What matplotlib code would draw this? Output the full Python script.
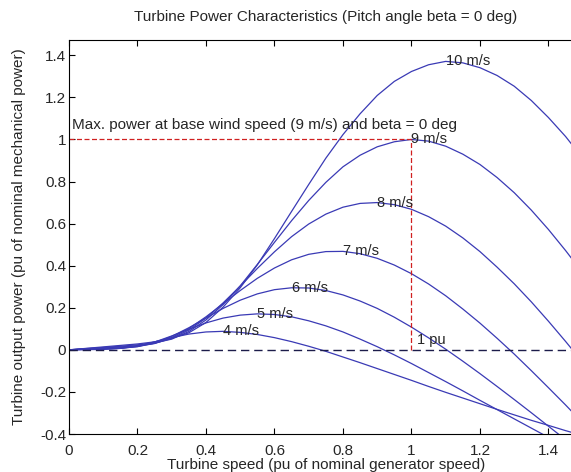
import numpy as np
import matplotlib
matplotlib.use('Agg')
import matplotlib.pyplot as plt

# turbine speed (pu), shared by every curve
speed = np.linspace(0, 1.5, 31)

wind_speeds = [4, 5, 6, 7, 8, 9, 10]

p4 = [0, 0.001, 0.002, 0.007, 0.019, 0.038, 0.058, 0.075, 0.085, 0.088, 0.083,
      0.073, 0.058, 0.039, 0.017, -0.007, -0.034, -0.061, -0.089, -0.117, -0.145,
      -0.174, -0.202, -0.229, -0.256, -0.283, -0.309, -0.335, -0.359, -0.384, -0.407]
p5 = [0, 0.002, 0.004, 0.007, 0.016, 0.037, 0.066, 0.098, 0.128, 0.151, 0.165,
      0.171, 0.168, 0.157, 0.138, 0.114, 0.085, 0.051, 0.015, -0.024, -0.065,
      -0.108, -0.151, -0.195, -0.240, -0.284, -0.328, -0.372, -0.416, -0.458, -0.500]
p6 = [0, 0.003, 0.005, 0.008, 0.015, 0.032, 0.064, 0.105, 0.151, 0.197, 0.236,
      0.266, 0.286, 0.295, 0.294, 0.282, 0.261, 0.232, 0.197, 0.155, 0.108,
      0.057, 0.003, -0.054, -0.113, -0.174, -0.236, -0.299, -0.363, -0.427, -0.491]
p7 = [0, 0.003, 0.007, 0.010, 0.017, 0.030, 0.058, 0.101, 0.157, 0.219, 0.282,
      0.340, 0.389, 0.428, 0.454, 0.467, 0.468, 0.457, 0.435, 0.403, 0.362,
      0.313, 0.257, 0.194, 0.127, 0.055, -0.020, -0.099, -0.180, -0.262, -0.347]
p8 = [0, 0.005, 0.009, 0.014, 0.020, 0.031, 0.054, 0.094, 0.151, 0.223, 0.303,
      0.387, 0.466, 0.538, 0.598, 0.645, 0.678, 0.696, 0.700, 0.690, 0.668,
      0.633, 0.588, 0.532, 0.467, 0.393, 0.314, 0.228, 0.136, 0.040, -0.059]
p9 = [0, 0.006, 0.011, 0.017, 0.024, 0.033, 0.051, 0.087, 0.142, 0.215, 0.304,
      0.406, 0.511, 0.614, 0.710, 0.796, 0.870, 0.925, 0.965, 0.989, 1.000,
      0.992, 0.968, 0.930, 0.881, 0.819, 0.747, 0.664, 0.572, 0.472, 0.366]
p10 = [0, 0.007, 0.014, 0.021, 0.028, 0.038, 0.055, 0.081, 0.130, 0.203, 0.295,
       0.404, 0.529, 0.658, 0.786, 0.911, 1.023, 1.122, 1.209, 1.276, 1.323,
       1.355, 1.371, 1.364, 1.341, 1.304, 1.253, 1.185, 1.104, 1.014, 0.911]

curves = [p4, p5, p6, p7, p8, p9, p10]

base_speed = 1.0
base_power = 1.0

plt.rcParams['font.family'] = ['Liberation Sans', 'DejaVu Sans']
txt_color = '#262626'

fig = plt.figure(figsize=(5.71, 4.72), dpi=100)
# the axes run past the right edge of the picture, as in the original
ax = fig.add_axes([0.1208, 0.0805, 0.8997, 0.8358])

for v, p in zip(wind_speeds, curves):
    p = np.array(p)
    ax.plot(speed, p, color='#3a3ab5', lw=0.9)
    i = np.argmax(p)
    ax.text(speed[i], p[i], '%d m/s' % v, fontsize=10.5, ha='left', va='center', color=txt_color)

ax.plot([0, 1.5], [0, 0], '--', color='#1c1c4a', lw=1.0, dashes=(6, 3.5))
ax.plot([0, base_speed], [base_power, base_power], '--', color='#d02020', lw=0.9, dashes=(4, 2))
ax.plot([base_speed, base_speed], [0, base_power], '--', color='#d02020', lw=0.9, dashes=(4, 2))

ax.text(0.01, 1.05, 'Max. power at base wind speed (9 m/s) and beta = 0 deg', fontsize=11,
        va='baseline', color=txt_color)
ax.text(1.015, 0.03, '1 pu', fontsize=10.5, va='baseline', color=txt_color)

ax.set_xlim(0, 1.5)
ax.set_ylim(-0.4, 1.475)
ax.set_xticks([0, 0.2, 0.4, 0.6, 0.8, 1, 1.2, 1.4])
ax.set_xticklabels(['0', '0.2', '0.4', '0.6', '0.8', '1', '1.2', '1.4'])
ax.set_yticks([-0.4, -0.2, 0, 0.2, 0.4, 0.6, 0.8, 1, 1.2, 1.4])
ax.set_yticklabels(['-0.4', '-0.2', '0', '0.2', '0.4', '0.6', '0.8', '1', '1.2', '1.4'])
ax.tick_params(direction='in', top=True, right=True, labelsize=11, length=4, width=0.8,
               labelcolor=txt_color)
ax.tick_params(axis='x', pad=7)
ax.tick_params(axis='y', pad=2)
for s in ax.spines.values():
    s.set_linewidth(0.8)

ax.set_title('Turbine Power Characteristics (Pitch angle beta = 0 deg)', fontsize=11, pad=13,
             color=txt_color)
ax.set_xlabel('Turbine speed (pu of nominal generator speed)', fontsize=11, labelpad=0,
              color=txt_color)
ax.set_ylabel('Turbine output power (pu of nominal mechanical power)', fontsize=11, labelpad=10,
              color=txt_color)

fig.savefig('out.png', dpi=100)
